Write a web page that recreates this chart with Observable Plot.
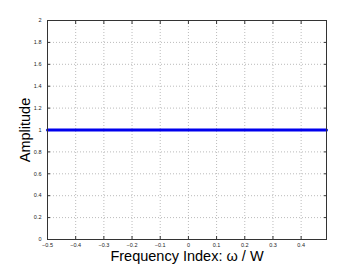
<!DOCTYPE html>
<html><head><meta charset="utf-8">
<script src="https://cdn.jsdelivr.net/npm/d3@7"></script>
<script src="https://cdn.jsdelivr.net/npm/@observablehq/plot@0.6"></script>
<style>body{margin:0;background:#fff;font-family:"Liberation Sans",Arial,sans-serif;}</style>
</head><body><div id="chart"></div>
<script>
const frequency = [-0.5, -0.4, -0.3, -0.2, -0.1, 0, 0.1, 0.2, 0.3, 0.4, 0.49];
const amplitude = [1, 1, 1, 1, 1, 1, 1, 1, 1, 1, 1];
const xTicks = [-0.5, -0.4, -0.3, -0.2, -0.1, 0, 0.1, 0.2, 0.3, 0.4];
const yTicks = [0, 0.2, 0.4, 0.6, 0.8, 1, 1.2, 1.4, 1.6, 1.8, 2];
const xLabel = "Frequency Index: ω / W";
const yLabel = "Amplitude";

const data = frequency.map((f, i) => ({f, a: amplitude[i]}));
const fmt = d => String(+d.toFixed(1)).replace("-", "\u2212");

const chart = Plot.plot({
  width: 360, height: 271,
  marginLeft: 47, marginRight: 34, marginTop: 20, marginBottom: 32,
  style: {fontFamily: '"Liberation Sans", Arial, sans-serif', background: "#fff"},
  x: {domain: [-0.5, 0.49]},
  y: {domain: [0, 2]},
  marks: [
    Plot.gridX(xTicks, {stroke: "#bbb", strokeOpacity: 1, strokeDasharray: "1,2"}),
    Plot.gridY(yTicks, {stroke: "#bbb", strokeOpacity: 1, strokeDasharray: "1,2"}),
    Plot.axisX({ticks: xTicks, tickSize: 0, tickPadding: 4, tickFormat: fmt, fontSize: 5.5, label: null, fill: "#222"}),
    Plot.axisY({ticks: yTicks, tickSize: 0, tickPadding: 6, tickFormat: fmt, fontSize: 5.5, label: null, fill: "#222"}),
    Plot.axisX({ticks: xTicks, tickSize: -3, text: null, label: null, stroke: "#333"}),
    Plot.axisX({ticks: xTicks, anchor: "top", tickSize: -3, text: null, label: null, stroke: "#333"}),
    Plot.axisY({ticks: yTicks, tickSize: -3, text: null, label: null, stroke: "#333"}),
    Plot.axisY({ticks: yTicks, anchor: "right", tickSize: -3, text: null, label: null, stroke: "#333"}),
    Plot.line(data, {x: "f", y: "a", stroke: "#0000ee", strokeWidth: 3}),
    Plot.frame({stroke: "#333", strokeWidth: 1}),
    Plot.text([yLabel], {frameAnchor: "left", textAnchor: "middle", dx: -22, rotate: -90, fontSize: 14.5, fill: "#000"}),
    Plot.text([xLabel], {frameAnchor: "bottom", dy: 21.5, fontSize: 14.5, fill: "#000"})
  ]
});
document.getElementById("chart").appendChild(chart);
</script>
</body></html>
